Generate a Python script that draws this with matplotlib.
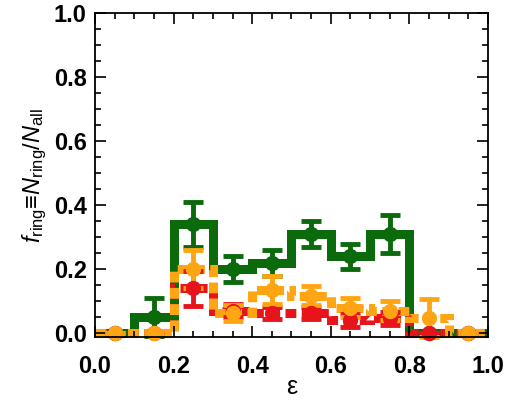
import numpy as np
from matplotlib import pyplot as plt

# bins in ellipticity, width 0.1
edges = np.arange(0.0, 1.01, 0.1)
centers = edges[:-1] + 0.05

green_f = [0.0, 0.05, 0.34, 0.20, 0.22, 0.31, 0.24, 0.31, 0.0, 0.0]
green_err = [0.0, 0.06, 0.07, 0.04, 0.04, 0.04, 0.04, 0.06, 0.0, 0.0]

red_f = [0.0, 0.0, 0.14, 0.07, 0.063, 0.063, 0.04, 0.047, 0.0, 0.0]
red_err = [0.0, 0.0, 0.055, 0.02, 0.02, 0.02, 0.02, 0.02, 0.0, 0.0]

orange_f = [0.0, 0.0, 0.20, 0.063, 0.135, 0.117, 0.08, 0.07, 0.047, 0.0]
orange_err = [0.0, 0.0, 0.06, 0.025, 0.045, 0.03, 0.03, 0.03, 0.06, 0.0]

plt.rcParams['font.family'] = ['Liberation Sans', 'DejaVu Sans']
plt.rcParams['mathtext.fontset'] = 'custom'
plt.rcParams['mathtext.rm'] = 'Liberation Sans'
plt.rcParams['mathtext.it'] = 'Liberation Sans:italic'

fig = plt.figure(figsize=(5.12, 4.01), dpi=100)
ax = fig.add_axes([0.1855, 0.1596, 0.7675, 0.808])

series = [
    (green_f, green_err, '#0b6a0b', '-'),
    (red_f, red_err, '#e8141c', (0, (1.2, 0.6))),
    (orange_f, orange_err, '#ffa514', (0, (1.2, 0.6))),
]
for vals, err, col, ls in series:
    ax.stairs(vals, edges, baseline=None, color=col, lw=6.5, linestyle=ls,
              clip_on=False)
    ax.errorbar(centers, vals, yerr=err, fmt='o', color=col, ms=10,
                elinewidth=3.5, capsize=7, capthick=3.5, clip_on=False)

ax.set_xlim(0, 1)
ax.set_ylim(-0.012, 1.0)
ax.set_xticks(np.arange(0, 1.01, 0.2))
ax.set_yticks(np.arange(0, 1.01, 0.2))
ax.set_xticks(np.arange(0, 1.01, 0.05), minor=True)
ax.set_yticks(np.arange(0, 1.01, 0.05), minor=True)
ax.set_xticklabels(['%.1f' % v for v in np.arange(0, 1.01, 0.2)])
ax.set_yticklabels(['%.1f' % v for v in np.arange(0, 1.01, 0.2)])
ax.tick_params(which='both', direction='in', top=True, right=True, width=1.2)
ax.tick_params(which='major', length=8)
ax.tick_params(which='minor', length=4)
ax.tick_params(axis='x', pad=13)
ax.tick_params(axis='y', pad=6)
for lab in ax.get_xticklabels() + ax.get_yticklabels():
    lab.set_fontsize(17)
    lab.set_fontweight('bold')
for sp in ax.spines.values():
    sp.set_linewidth(1.3)

ax.set_xlabel('ε', fontsize=18, labelpad=-2)
ax.set_ylabel(r'$f_{\rm ring}$≡$N_{\rm ring}/N_{\rm all}$', fontsize=17,
              labelpad=3)

plt.savefig('out.png', dpi=100)
